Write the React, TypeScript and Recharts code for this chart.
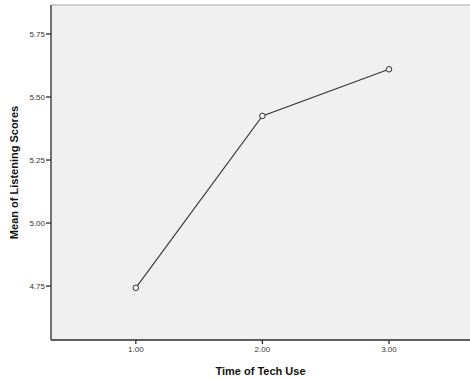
import React from 'react';
import { LineChart, Line, XAxis, YAxis, CartesianGrid, ReferenceLine } from 'recharts';

// group means
const techUse = [1, 2, 3];
const listeningMeans = [4.743, 5.425, 5.61];
const yTicks = [4.75, 5.0, 5.25, 5.5, 5.75];
const xTicks = [1, 2, 3];

const data = techUse.map((t, i) => ({ time: t, mean: listeningMeans[i] }));

const FONT = '"Liberation Sans", Arial, sans-serif';
const Y_MIN = 4.536;
const Y_MAX = 5.865;

export default function App() {
  return (
    <div style={{ position: 'absolute', left: 0, top: 0, width: 470, height: 379, background: '#fff' }}>
      <LineChart
        width={470}
        height={379}
        data={data}
        margin={{ top: 5, right: 0, left: 0, bottom: 0 }}
        style={{ fontFamily: FONT }}
      >
        <CartesianGrid horizontal={false} vertical={false} fill="#f0f0f0" />
        <ReferenceLine y={Y_MAX} stroke="#a8a8a8" strokeWidth={1} />
        <XAxis
          dataKey="time"
          type="number"
          domain={[0.33, 3.64]}
          ticks={xTicks}
          tickFormatter={(v: number) => v.toFixed(2)}
          height={39}
          stroke="#2b2b2b"
          strokeWidth={1.3}
          tickSize={4}
          tickMargin={2}
          tick={{ fontSize: 8, fill: '#333', fontFamily: FONT }}
          label={{
            value: 'Time of Tech Use',
            position: 'insideBottom',
            offset: 4,
            style: { fontSize: 11, fontWeight: 'bold', fill: '#111', fontFamily: FONT },
          }}
        />
        <YAxis
          type="number"
          domain={[Y_MIN, Y_MAX]}
          ticks={yTicks}
          tickFormatter={(v: number) => v.toFixed(2)}
          width={51}
          stroke="#2b2b2b"
          strokeWidth={1.3}
          tickSize={5}
          tickMargin={1}
          tick={{ fontSize: 8, fill: '#333', fontFamily: FONT }}
          label={{
            value: 'Mean of Listening Scores',
            angle: -90,
            position: 'insideLeft',
            offset: 14,
            style: { fontSize: 11, fontWeight: 'bold', fill: '#111', fontFamily: FONT, textAnchor: 'middle' },
          }}
        />
        <Line
          type="linear"
          dataKey="mean"
          stroke="#333"
          strokeWidth={1.1}
          dot={{ r: 2.8, stroke: '#333', strokeWidth: 1, fill: '#f0f0f0' }}
          activeDot={false}
          isAnimationActive={false}
        />
      </LineChart>
    </div>
  );
}
